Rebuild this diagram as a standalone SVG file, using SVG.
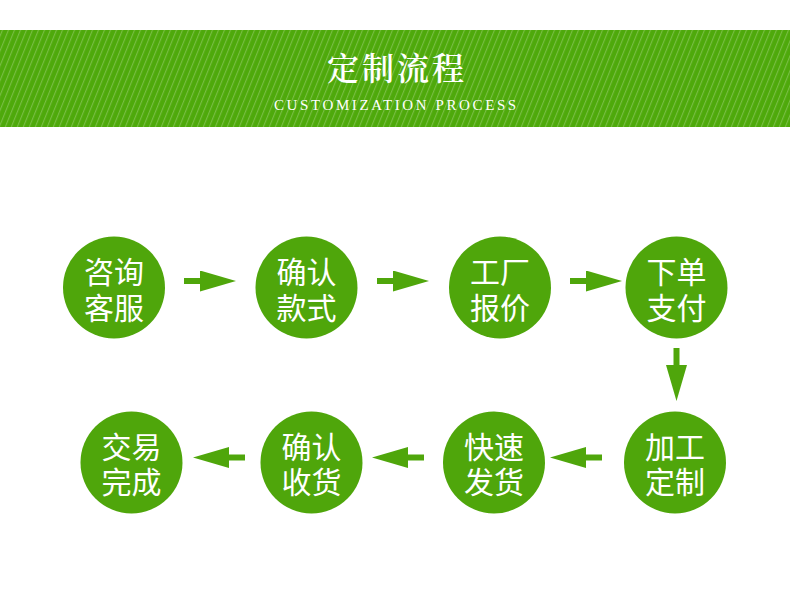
<svg xmlns="http://www.w3.org/2000/svg" width="790" height="592" viewBox="0 0 790 592">
<defs>
<pattern id="stripes" width="6" height="6" patternUnits="userSpaceOnUse" patternTransform="skewX(-22)">
<rect x="0" y="0" width="6" height="6" fill="#4ea90b"/>
<rect x="2" y="0" width="1.2" height="6" fill="#78be44"/>
</pattern>
<marker id="ah" viewBox="0 0 36 21" refX="0" refY="10.5" markerWidth="36" markerHeight="21" markerUnits="userSpaceOnUse" orient="auto">
<path d="M0 0 L36 10.5 L0 21 Z" fill="#4fa60b"/>
</marker>
</defs>
<style>
.node circle{fill:#4fa60b}
.node text{fill:#fff;font-family:"Noto Sans CJK SC","Noto Sans",sans-serif;font-size:30px;text-anchor:middle}
.conn line{stroke:#4fa60b;stroke-width:6;marker-end:url(#ah)}
.title{fill:#fff;font-family:"Noto Serif CJK SC","Noto Sans CJK SC",serif;font-size:32px;font-weight:600;letter-spacing:3px}
.sub{fill:#fff;font-family:"Liberation Serif",serif;font-size:15px;letter-spacing:2.6px}
</style>
<rect width="790" height="592" fill="#fff"/>
<g id="banner">
<rect x="0" y="30" width="790" height="97" fill="url(#stripes)"/>
<text class="title" x="327" y="80">定制流程</text>
<text class="sub" x="274" y="110">CUSTOMIZATION PROCESS</text>
</g>
<g id="connectors" class="conn">
<line x1="184" y1="281" x2="200" y2="281"/>
<line x1="377" y1="281" x2="393" y2="281"/>
<line x1="570" y1="281" x2="586" y2="281"/>
<line x1="676.5" y1="348" x2="676.5" y2="365"/>
<line x1="602" y1="457.5" x2="586" y2="457.5"/>
<line x1="424" y1="457.5" x2="408" y2="457.5"/>
<line x1="245" y1="457.5" x2="229" y2="457.5"/>
</g>
<g id="n1" class="node"><circle cx="114" cy="287.5" r="51"/><text x="114" y="283">咨询</text><text x="114" y="319">客服</text></g>
<g id="n2" class="node"><circle cx="306.5" cy="287.5" r="51"/><text x="306.5" y="283">确认</text><text x="306.5" y="319">款式</text></g>
<g id="n3" class="node"><circle cx="500" cy="287.5" r="51"/><text x="500" y="283">工厂</text><text x="500" y="319">报价</text></g>
<g id="n4" class="node"><circle cx="676.5" cy="287.5" r="51"/><text x="676.5" y="283">下单</text><text x="676.5" y="319">支付</text></g>
<g id="n5" class="node"><circle cx="675" cy="462.5" r="51"/><text x="675" y="458">加工</text><text x="675" y="493">定制</text></g>
<g id="n6" class="node"><circle cx="494" cy="462.5" r="51"/><text x="494" y="458">快速</text><text x="494" y="493">发货</text></g>
<g id="n7" class="node"><circle cx="311.5" cy="462.5" r="51"/><text x="311.5" y="458">确认</text><text x="311.5" y="493">收货</text></g>
<g id="n8" class="node"><circle cx="131.5" cy="462.5" r="51"/><text x="131.5" y="458">交易</text><text x="131.5" y="493">完成</text></g>
</svg>
